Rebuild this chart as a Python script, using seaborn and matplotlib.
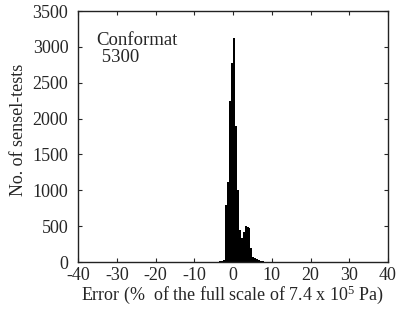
# Error histogram - Conformat 5300 sensel-tests

import numpy as np
import pandas as pd
import matplotlib
matplotlib.use("Agg")
import matplotlib.pyplot as plt
import seaborn as sns

# Data (bin edges, counts per bin)
bin_edges = [-4.0, -3.5, -3.0, -2.5, -2.0, -1.5, -1.0, -0.5, 0.0, 0.5, 1.0,
             1.5, 2.0, 2.5, 3.0, 3.5, 4.0, 4.5, 5.0, 5.5, 6.0, 6.5, 7.0,
             7.5, 8.0, 8.5]
counts = [5, 15, 20, 25, 800, 1120, 2240, 2780, 3130, 1900, 1000, 450,
          335, 420, 500, 495, 480, 190, 75, 60, 40, 30, 20, 10, 5]

x_ticks = [-40, -30, -20, -10, 0, 10, 20, 30, 40]
y_ticks = [0, 500, 1000, 1500, 2000, 2500, 3000, 3500]

df = pd.DataFrame({
    'error': [(a + b) / 2 for a, b in zip(bin_edges[:-1], bin_edges[1:])],
    'count': counts,
})

sns.set_style("ticks")
plt.rcParams['font.family'] = ['Liberation Serif', 'DejaVu Serif']
plt.rcParams['mathtext.fontset'] = 'custom'
plt.rcParams['mathtext.rm'] = 'Liberation Serif'
plt.rcParams['mathtext.it'] = 'Liberation Serif'
plt.rcParams['axes.unicode_minus'] = False

fig = plt.figure(figsize=(4.0, 3.09), dpi=100)
ax = fig.add_axes([0.195, 0.152, 0.775, 0.812])

sns.histplot(data=df, x='error', weights='count', bins=bin_edges, ax=ax,
             color='black', edgecolor='black', linewidth=0, alpha=1)

ax.set_xlim(-40, 40)
ax.set_ylim(0, 3500)
ax.set_xticks(x_ticks)
ax.set_yticks(y_ticks)
ax.tick_params(direction='in', top=True, right=True, labelsize=13,
               length=3, width=0.8)
ax.tick_params(axis='x', pad=3.5)
ax.tick_params(axis='y', pad=7)
for s in ax.spines.values():
    s.set_visible(True)
    s.set_linewidth(1.0)
    s.set_color('#222222')

ax.set_xlabel('Error (%  of the full scale of 7.4 x 10$^{5}$ Pa)', fontsize=13, labelpad=0)
ax.set_ylabel('No. of sensel-tests', fontsize=13)
ax.yaxis.set_label_coords(-0.165, 0.526)

ax.text(0.06, 0.915, 'Conformat\n 5300', transform=ax.transAxes,
        fontsize=13.5, va='top', ha='left', linespacing=1.0)

plt.savefig("out.png", dpi=100)
